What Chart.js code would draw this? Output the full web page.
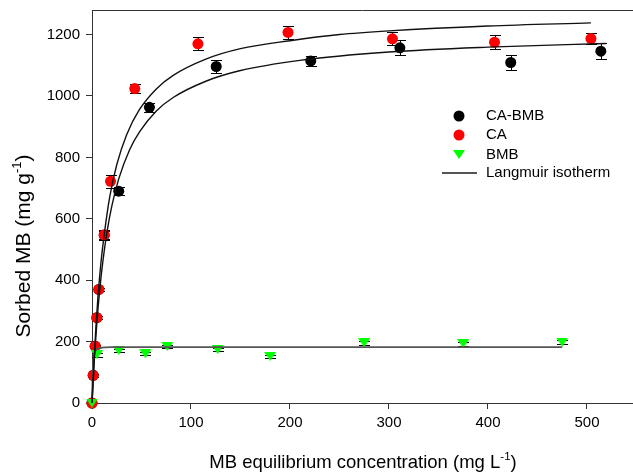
<!DOCTYPE html>
<html>
<head>
<meta charset="utf-8">
<script src="https://cdn.jsdelivr.net/npm/chart.js@4"></script>
<style>
  html, body { margin: 0; padding: 0; background: #fff; overflow: hidden; }
  #wrap { width: 633px; height: 473px; }
</style>
</head>
<body>
<div id="wrap"><canvas id="chart" width="633" height="473"></canvas></div>
<script>
// measured points (x = MB equilibrium conc, y = sorbed MB, err = error bar half-length)
const caBmbX   = [0, 1.2, 3.2, 4.9, 6.9, 12.3, 27, 58, 125.5, 221, 311, 423, 514];
const caBmbY   = [0, 90, 185, 278, 370, 546, 690, 963, 1096, 1114, 1157, 1109, 1146];
const caBmbErr = [0, 5, 5, 5, 5, 15, 13, 15, 22, 15, 25, 25, 26];

const caX   = [0, 1.2, 3.2, 4.9, 6.9, 12.3, 18.7, 43.2, 107, 198, 303.5, 406.6, 504];
const caY   = [0, 90, 185, 278, 370, 548, 722, 1024, 1170, 1207, 1186, 1175, 1187];
const caErr = [0, 5, 5, 5, 5, 15, 22, 14, 21, 20, 21, 22, 17];

const bmbX   = [0, 4.9, 27, 54, 76, 127, 180, 275, 375, 475];
const bmbY   = [0, 157, 171, 160, 184, 174, 152, 196, 193, 198];
const bmbErr = [0, 6, 6, 5, 6, 6, 5, 7, 6, 6];

// Langmuir isotherm curves
const caFitX = [0, 2, 4, 6, 9, 12.6, 18, 25, 35, 48, 65, 82, 115, 150, 200, 250, 300, 400, 504];
const caFitY = [0, 135, 250, 345, 456, 555, 673, 776, 874, 956, 1023, 1067, 1120, 1154, 1180, 1200, 1212, 1228, 1238];
const caBmbFitX = [0, 2.5, 5, 7.6, 11, 15.3, 20, 27, 38, 48, 65, 82, 115, 149, 210, 300, 400, 519];
const caBmbFitY = [0, 149, 266, 362, 462, 560, 641, 730, 825, 883, 951, 995, 1048, 1082, 1116, 1143, 1159, 1171];
const bmbFitX = [0, 1, 2, 4, 8, 20, 475];
const bmbFitY = [0, 120, 155, 172, 179, 182, 182];

const xTicks = [0, 100, 200, 300, 400, 500];
const yTicks = [0, 200, 400, 600, 800, 1000, 1200];

const FONT = '"Liberation Sans", Arial, sans-serif';
const GREEN = '#00ff00';
const pts = (xs, ys) => xs.map((x, i) => ({ x: x, y: ys[i] }));

// flat downward triangle marker
const tri = document.createElement('canvas');
tri.width = 12; tri.height = 9;
(function () {
    const c = tri.getContext('2d');
    c.fillStyle = GREEN;
    c.beginPath(); c.moveTo(0, 0); c.lineTo(12, 0); c.lineTo(6, 9); c.closePath(); c.fill();
})();

const fitStyle = {
    type: 'line', showLine: true, pointRadius: 0, borderColor: '#111', borderWidth: 1.4,
    cubicInterpolationMode: 'monotone', fill: false, clip: false, order: 0
};

const datasets = [
    Object.assign({ label: 'fitCA', data: pts(caFitX, caFitY) }, fitStyle),
    Object.assign({ label: 'fitCABMB', data: pts(caBmbFitX, caBmbFitY) }, fitStyle),
    Object.assign({ label: 'fitBMB', data: pts(bmbFitX, bmbFitY) }, fitStyle, { borderColor: '#555', borderWidth: 1.8 }),
    { label: 'BMB', data: pts(bmbX, bmbY), err: bmbErr, pointStyle: tri, radius: 6,
      backgroundColor: GREEN, borderColor: GREEN, borderWidth: 0, clip: false, order: 1 },
    { label: 'CA', data: pts(caX, caY), err: caErr, pointStyle: 'circle', radius: 5.5,
      backgroundColor: '#ff0000', borderColor: '#ff0000', borderWidth: 0, clip: false, order: 2 },
    { label: 'CA-BMB', data: pts(caBmbX, caBmbY), err: caBmbErr, pointStyle: 'circle', radius: 5.5,
      backgroundColor: '#000', borderColor: '#000', borderWidth: 0, clip: false, order: 3 }
];

function drawRich(ctx, parts, x, y, size) {
    // parts: [text, isSuperscript]; draws centred at x, baseline y
    const sup = size * 0.62;
    let total = 0;
    parts.forEach(p => {
        ctx.font = (p[1] ? sup : size) + 'px ' + FONT;
        total += ctx.measureText(p[0]).width;
    });
    let cx = x - total / 2;
    parts.forEach(p => {
        ctx.font = (p[1] ? sup : size) + 'px ' + FONT;
        ctx.fillText(p[0], cx, p[1] ? y - size * 0.42 : y);
        cx += ctx.measureText(p[0]).width;
    });
}

const decor = {
    id: 'decor',
    beforeDatasetsDraw(chart) {
        const ctx = chart.ctx, xs = chart.scales.x, ys = chart.scales.y;
        ctx.save();
        ctx.strokeStyle = '#000';
        ctx.lineWidth = 1;
        chart.data.datasets.forEach(ds => {
            if (!ds.err) return;
            ds.data.forEach((p, i) => {
                const e = ds.err[i];
                if (!e) return;
                const px = Math.round(xs.getPixelForValue(p.x)) + 0.5;
                const top = Math.round(ys.getPixelForValue(p.y + e)) + 0.5;
                const bot = Math.round(ys.getPixelForValue(p.y - e)) + 0.5;
                ctx.beginPath();
                ctx.moveTo(px, top); ctx.lineTo(px, bot);
                ctx.moveTo(px - 5.5, top); ctx.lineTo(px + 5.5, top);
                ctx.moveTo(px - 5.5, bot); ctx.lineTo(px + 5.5, bot);
                ctx.stroke();
            });
        });
        ctx.restore();
    },
    afterDraw(chart) {
        const ctx = chart.ctx, xs = chart.scales.x, ys = chart.scales.y;
        ctx.save();
        // top frame line
        const ty = Math.round(ys.getPixelForValue(ys.max)) + 0.5;
        ctx.strokeStyle = '#333';
        ctx.lineWidth = 1;
        ctx.beginPath();
        ctx.moveTo(xs.left, ty);
        ctx.lineTo(xs.right, ty);
        ctx.stroke();

        // axis titles
        ctx.fillStyle = '#000';
        ctx.textBaseline = 'alphabetic';
        ctx.textAlign = 'left';
        drawRich(ctx, [['MB equilibrium concentration (mg L', false], ['-1', true], [')', false]],
            363, 468, 18.5);
        ctx.save();
        ctx.translate(30, 246);
        ctx.rotate(-Math.PI / 2);
        drawRich(ctx, [['Sorbed MB (mg g', false], ['-1', true], [')', false]], 0, 0, 21);
        ctx.restore();

        // legend
        const mx = 459, tx = 486;
        const rows = [116, 135, 154.5, 173];
        ctx.font = '15px ' + FONT;
        ctx.textBaseline = 'middle';
        ctx.fillStyle = '#000';
        ctx.beginPath(); ctx.arc(mx, rows[0], 5.5, 0, Math.PI * 2); ctx.fill();
        ctx.fillText('CA-BMB', tx, rows[0]);
        ctx.fillStyle = '#ff0000';
        ctx.beginPath(); ctx.arc(mx, rows[1], 5.5, 0, Math.PI * 2); ctx.fill();
        ctx.fillStyle = '#000';
        ctx.fillText('CA', tx, rows[1]);
        ctx.drawImage(tri, mx - 6, rows[2] - 4.5);
        ctx.fillText('BMB', tx, rows[2]);
        ctx.strokeStyle = '#555';
        ctx.lineWidth = 1.8;
        ctx.beginPath(); ctx.moveTo(442, rows[3]); ctx.lineTo(477, rows[3]); ctx.stroke();
        ctx.fillText('Langmuir isotherm', tx, rows[3]);
        ctx.restore();
    }
};

new Chart(document.getElementById('chart'), {
    type: 'scatter',
    data: { datasets: datasets },
    options: {
        responsive: false,
        animation: false,
        devicePixelRatio: 1,
        layout: { autoPadding: false, padding: { top: 10, right: 0, bottom: 0, left: 0 } },
        plugins: { legend: { display: false }, tooltip: { enabled: false }, title: { display: false } },
        scales: {
            x: {
                type: 'linear', min: 0, max: 546.5,
                afterFit: s => { s.height = 70; s.paddingLeft = 0; s.paddingRight = 0; },
                afterBuildTicks: s => { s.ticks = xTicks.map(v => ({ value: v })); },
                ticks: { color: '#000', font: { family: FONT, size: 15 }, padding: 5, maxRotation: 0,
                         callback: v => String(v) },
                grid: { drawOnChartArea: false, drawTicks: true, tickLength: 6, tickColor: '#333' },
                border: { display: true, color: '#333', width: 1 }
            },
            y: {
                type: 'linear', min: 0, max: 1280,
                afterFit: s => { s.width = 92; s.paddingTop = 0; s.paddingBottom = 0; },
                afterBuildTicks: s => { s.ticks = yTicks.map(v => ({ value: v })); },
                ticks: { color: '#000', font: { family: FONT, size: 15 }, padding: 6,
                         callback: v => String(v) },
                grid: { drawOnChartArea: false, drawTicks: true, tickLength: 6, tickColor: '#333' },
                border: { display: true, color: '#333', width: 1 }
            }
        }
    },
    plugins: [decor]
});
</script>
</body>
</html>
